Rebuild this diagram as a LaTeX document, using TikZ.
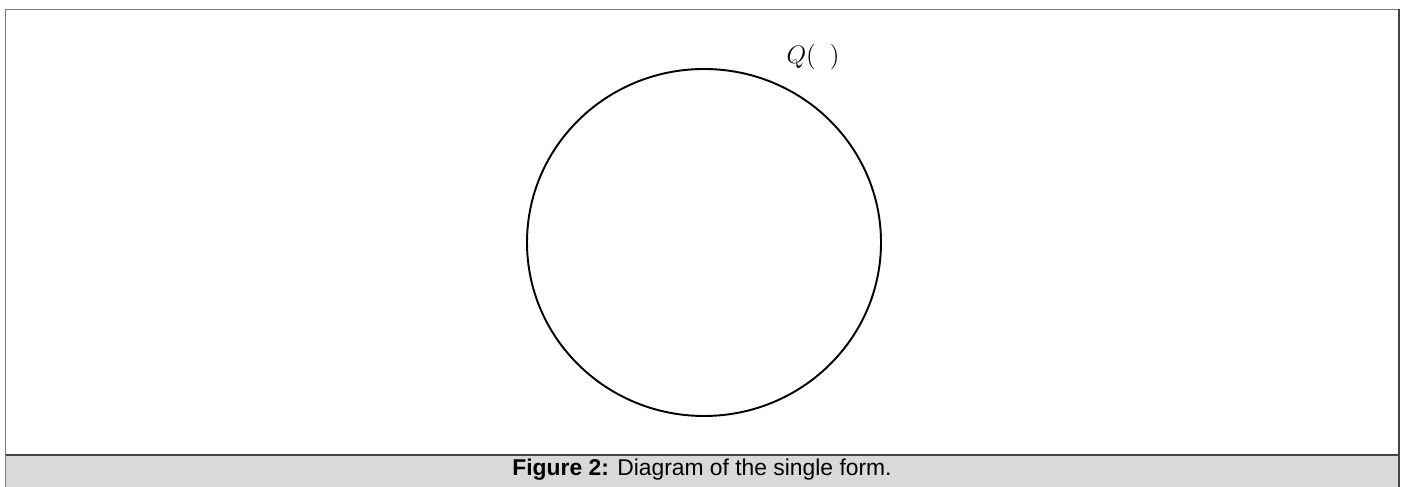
\documentclass[tikz,border=0pt]{standalone}
\usepackage{fontspec}
\setsansfont{Liberation Sans}
\usetikzlibrary{shapes.geometric}
\definecolor{bandgray}{HTML}{D9D9D9}
\definecolor{framegray}{HTML}{7A7A7A}
\definecolor{rulegray}{HTML}{444444}
\tikzset{
  formshape/.style={ellipse,draw,line width=1.1pt,minimum width=7.08cm,minimum height=6.94cm,inner sep=0pt},
  formlabel/.style={font=\Large},
  captiontext/.style={font=\sffamily\fontsize{13}{15}\selectfont}
}
\begin{document}
\begin{tikzpicture}
\useasboundingbox (0,0) rectangle (28.04,9.74);
% caption band and frame
\fill[bandgray] (0.11,0) rectangle (27.98,0.64);
\draw[framegray,line width=1.1pt] (0.11,0) -- (0.11,9.55) -- (27.98,9.55);
\draw[rulegray,line width=1.1pt] (27.98,9.55) -- (27.98,0);
\draw[rulegray,line width=1.1pt] (0.11,0.64) -- (27.98,0.64);
% diagram
\node[formshape] (form) at (14.08,4.89) {};
\node[formlabel] (qlabel) at (16.26,8.6) {$Q(\;\;)$};
\node[captiontext] (caption) at (14.04,0.34) {\textbf{Figure 2:} Diagram of the single form.};
\end{tikzpicture}
\end{document}
